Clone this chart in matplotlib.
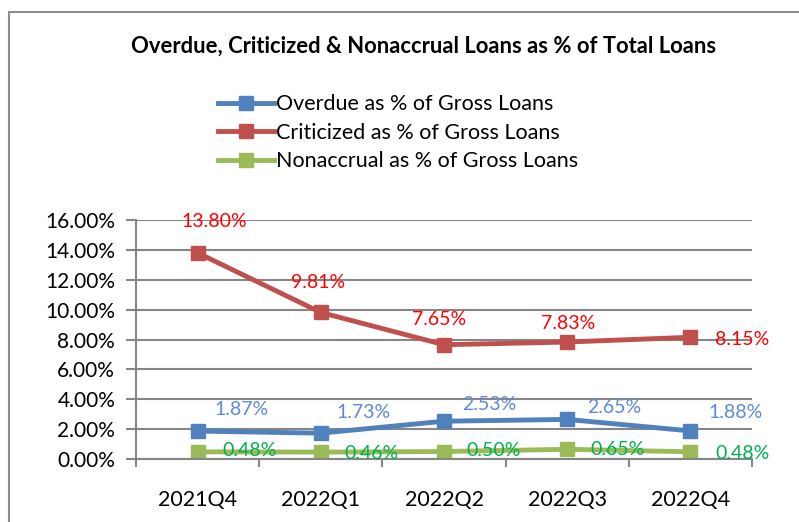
import matplotlib.pyplot as plt
import numpy as np
from matplotlib.patches import Rectangle
from matplotlib.ticker import FuncFormatter, MultipleLocator, FixedLocator

plt.rcParams['font.family'] = ['Lato', 'DejaVu Sans']

quarters = ['2021Q4', '2022Q1', '2022Q2', '2022Q3', '2022Q4']
overdue = [1.87, 1.73, 2.53, 2.65, 1.88]
criticized = [13.80, 9.81, 7.65, 7.83, 8.15]
nonaccrual = [0.48, 0.46, 0.50, 0.65, 0.48]

# label offsets in pixels (dx, dy)
red_off = [(17, 31), (-3, 30), (-5, 25), (1, 19), (52, -2)]
blue_off = [(44, 22), (43, 21), (45, 17), (47, 12), (45, 18)]
green_off = [(52, 1), (51, -1), (50, 1), (50, 0), (52, -2)]

fig = plt.figure(figsize=(7.99, 5.22), dpi=100)
fig.patches.append(Rectangle((9 / 799, -0.2), 2, 1.2 - 12 / 522, transform=fig.transFigure,
                             fill=False, edgecolor='#8c8c8c', linewidth=1.5))
ax = fig.add_axes([136 / 799, 1 - 459 / 522, 616 / 799, 239 / 522])

x = np.arange(len(quarters))
ax.plot(x, overdue, color='#4F81BD', lw=3.5, marker='s', ms=10, label='Overdue as % of Gross Loans')
ax.plot(x, criticized, color='#C0504D', lw=3.5, marker='s', ms=10, label='Criticized as % of Gross Loans')
ax.plot(x, nonaccrual, color='#9BBB59', lw=3.5, marker='s', ms=10, label='Nonaccrual as % of Gross Loans')

for vals, offs, c in [(criticized, red_off, '#FF0000'), (overdue, blue_off, '#5B8BD0'),
                      (nonaccrual, green_off, '#00B050')]:
    for i, v in enumerate(vals):
        ax.annotate('{:.2f}%'.format(v), (x[i], v), xytext=offs[i], textcoords='offset pixels',
                    ha='center', va='center', fontsize=14, color=c)

ax.set_xlim(-0.5, len(quarters) - 0.5)
ax.set_ylim(0, 16)
ax.yaxis.set_major_locator(MultipleLocator(2))
ax.yaxis.set_major_formatter(FuncFormatter(lambda v, p: '{:.2f}%'.format(v)))
ax.grid(axis='y', color='#868686', lw=1.5)
ax.set_axisbelow(True)

ax.set_xticks(x)
ax.set_xticklabels(quarters)
ax.xaxis.set_minor_locator(FixedLocator(np.arange(-0.5, len(quarters), 1)))
ax.tick_params(axis='x', which='major', length=0, pad=22, labelsize=15.5)
ax.tick_params(axis='x', which='minor', length=6, color='#868686', width=1.5)
ax.tick_params(axis='y', length=7, color='#868686', width=1.5, labelsize=15, pad=8)

for s in ['top', 'right']:
    ax.spines[s].set_visible(False)
for s in ['left', 'bottom']:
    ax.spines[s].set_color('#868686')
    ax.spines[s].set_linewidth(1.5)

fig.text(424 / 799, 1 - 46 / 522, 'Overdue, Criticized & Nonaccrual Loans as % of Total Loans',
         ha='center', va='center', fontsize=15.8, fontweight='bold')

fig.legend(loc='upper left', bbox_to_anchor=(199 / 799, 1 - 75 / 522), frameon=False,
           fontsize=15.5, handlelength=2.6, handletextpad=0.1, labelspacing=0.39)

fig.savefig('out.png', dpi=100)
